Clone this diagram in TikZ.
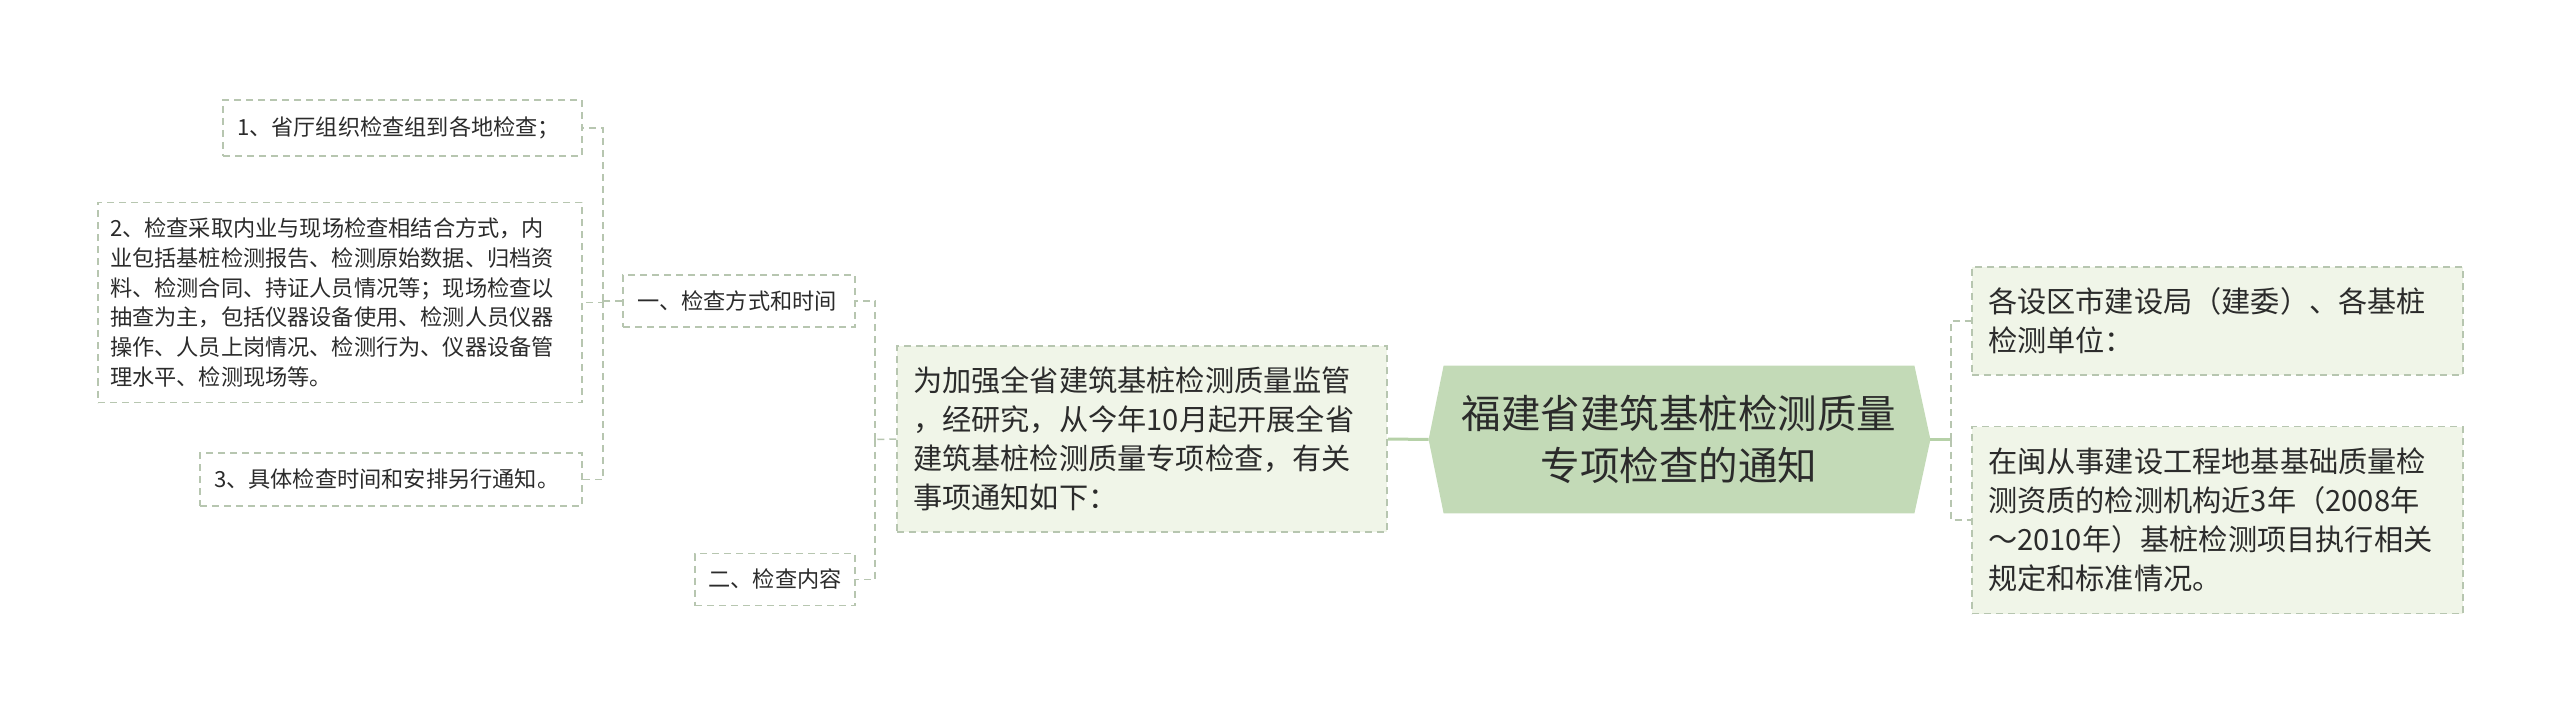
\documentclass[tikz,border=0pt]{standalone}
\usepackage{fontspec}
\newfontfamily\cjk{Noto Sans CJK SC}
\usetikzlibrary{positioning,backgrounds}
\definecolor{rootgreen}{HTML}{C3DAB7}
\definecolor{paleleaf}{HTML}{F0F5E8}
\definecolor{dashgray}{HTML}{B7C6B0}
\definecolor{linkgreen}{HTML}{B6D1A8}
\definecolor{inktext}{HTML}{2B2B2B}

\begin{document}
\begin{tikzpicture}
    [x=0.5pt,y=-0.5pt,text=inktext,
     leaf/.style={draw=dashgray,line width=0.75pt,dash pattern=on 3.5pt off 2.5pt,
       inner xsep=7pt,inner ysep=0pt,align=left,
       font=\cjk\fontsize{11.1}{14.85}\selectfont},
     topic/.style={leaf,fill=paleleaf,inner xsep=8pt,
       font=\cjk\fontsize{14.6}{19.5}\selectfont},
     dashlink/.style={draw=dashgray,line width=0.75pt,dash pattern=on 3.5pt off 2.5pt},
     solidlink/.style={draw=linkgreen,line width=1.5pt}]
    \useasboundingbox (0,0) rectangle (2560,711);

    % centre topic
    \node (root) [minimum width=235pt,minimum height=73.5pt,align=center,
      font=\cjk\fontsize{19.75}{26}\selectfont] at (1679,439.5)
      {福建省建筑基桩检测质量\\专项检查的通知};
    \coordinate (rootW) at ([xshift=-7.5pt]root.west);
    \coordinate (rootE) at ([xshift=8pt]root.east);
    \begin{scope}[on background layer]
      \fill[rootgreen] (rootW) -- (root.north west) -- (root.north east)
        -- (rootE) -- (root.south east) -- (root.south west) -- cycle;
    \end{scope}

    % left branch
    \node (intro) [topic,minimum width=245pt,minimum height=93pt,text width=229pt]
      at (1142,439)
      {为加强全省建筑基桩检测质量监管\\，经研究，从今年10月起开展全省\\建筑基桩检测质量专项检查，有关\\事项通知如下：};
    \node (way) [leaf,minimum width=116pt,minimum height=26pt,text width=102pt]
      at (739,301) {一、检查方式和时间};
    \node (content) [leaf,minimum width=80pt,minimum height=26pt,text width=66.5pt,
      inner xsep=6.75pt,below=112.5pt of way.south east,anchor=north east]
      {二、检查内容};
    \node (way1) [leaf,minimum width=179.5pt,minimum height=28pt,text width=165.5pt]
      at (402.5,128) {1、省厅组织检查组到各地检查；};
    \node (way2) [leaf,minimum width=242pt,minimum height=100pt,text width=230pt,
      inner xsep=6pt,below=22.5pt of way1.south east,anchor=north east]
      {2、检查采取内业与现场检查相结合方式，内\\业包括基桩检测报告、检测原始数据、归档资\\料、检测合同、持证人员情况等；现场检查以\\抽查为主，包括仪器设备使用、检测人员仪器\\操作、人员上岗情况、检测行为、仪器设备管\\理水平、检测现场等。};
    \node (way3) [leaf,minimum width=191pt,minimum height=26.5pt,text width=177pt,
      below=24.5pt of way2.south east,anchor=north east]
      {3、具体检查时间和安排另行通知。};

    % right branch
    \node (units) [topic,minimum width=245.5pt,minimum height=54pt,text width=229.5pt]
      at (2217.5,321) {各设区市建设局（建委）、各基桩\\检测单位：};
    \node (firms) [topic,minimum width=245.5pt,minimum height=93.5pt,text width=229.5pt,
      below=25pt of units]
      {在闽从事建设工程地基基础质量检\\测资质的检测机构近3年（2008年\\～2010年）基桩检测项目执行相关\\规定和标准情况。};

    % links
    \coordinate (ljoin) at (875,439.5);
    \coordinate (kjoin) at (603,301);
    \coordinate (rjoin) at (1951,439.5);
    \draw[solidlink] (intro.east) -- (rootW);
    \draw[solidlink] (rootE) -- (rjoin);
    \foreach \n in {units,firms} {
      \draw[dashlink] (rjoin) |- (\n.west);
    }
    \draw[dashlink] (intro.west) -- (ljoin);
    \foreach \n in {way,content} {
      \draw[dashlink] (ljoin) |- (\n.east);
    }
    \draw[dashlink] (way.west) -- (kjoin);
    \foreach \n in {way1,way2,way3} {
      \draw[dashlink] (kjoin) |- (\n.east);
    }
\end{tikzpicture}
\end{document}
